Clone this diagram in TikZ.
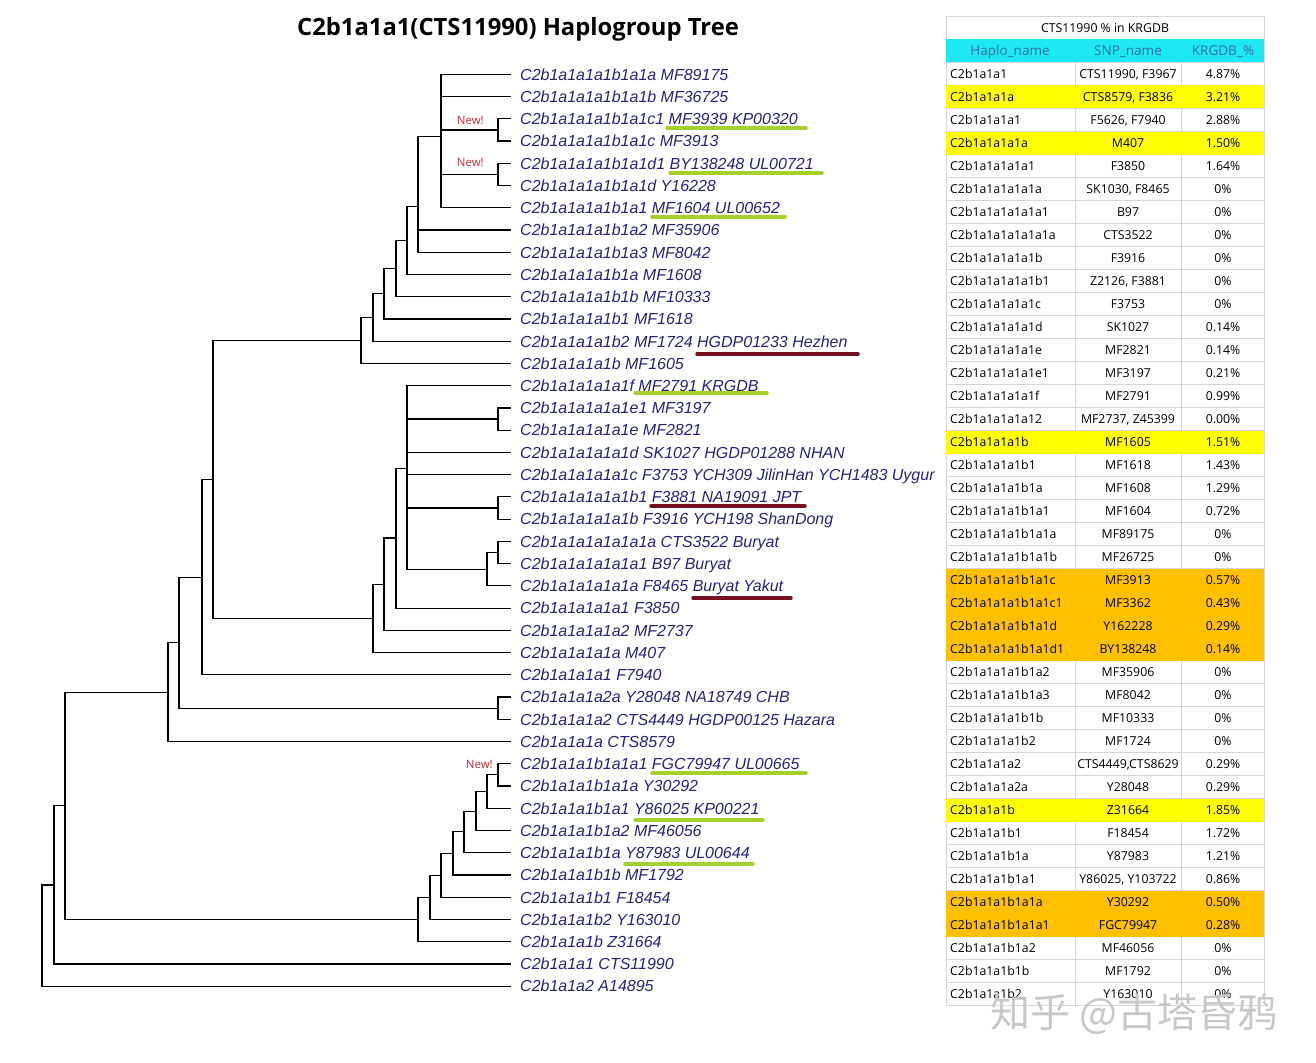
\documentclass[tikz,border=0pt]{standalone}
\usepackage{fontspec}
\setmainfont{Liberation Sans}
\newfontfamily\tabfont{Open Sans}
\newfontfamily\cjkfont{Noto Sans CJK SC}
\usepackage{xcolor}
\usepackage{tikz}
\usetikzlibrary{positioning}

\definecolor{leafblue}{RGB}{38,38,118}
\definecolor{newred}{RGB}{192,48,58}
\definecolor{markgreen}{RGB}{165,208,45}
\definecolor{markred}{RGB}{118,16,32}
\definecolor{hdrcyan}{RGB}{30,232,242}
\definecolor{hdrtext}{RGB}{50,112,170}
\definecolor{rowyellow}{RGB}{255,255,0}
\definecolor{roworange}{RGB}{255,192,0}
\definecolor{gridgray}{RGB}{214,214,214}
\definecolor{wmgray}{RGB}{200,200,200}

\begin{document}
\begin{tikzpicture}[x=1pt,y=-1pt,
    leaf/.style={font=\fontsize{16}{19}\selectfont\itshape, text=leafblue,
                 inner sep=0pt, text height=11.6pt, text depth=0pt},
    branch/.style={draw=black, line width=1.15pt},
    newtag/.style={font=\tabfont\fontsize{11.5}{13}\selectfont, text=newred, inner sep=1pt},
    greenmark/.style={draw=markgreen, line width=3.5pt, line cap=round},
    redmark/.style={draw=markred, line width=3.5pt, line cap=round},
    cell/.style={font=\tabfont\fontsize{12.3}{14}\selectfont, inner sep=0pt,
                 text height=8.8pt, text depth=0pt},
    gridline/.style={draw=gridgray, line width=0.8pt}]
\useasboundingbox[fill=white] (0,0) rectangle (1316,1062);

\node[font=\tabfont\bfseries\fontsize{23.8}{28}\selectfont] (title) at (518,29)
  {C2b1a1a1(CTS11990) Haplogroup Tree};

% tree, one unit of y = one leaf row
\begin{scope}[yshift=-52.1pt, y=-22.24pt]
\foreach \r/\lab in {
   1/{C2b1a1a1a1b1a1a MF89175},
   2/{C2b1a1a1a1b1a1b MF36725},
   3/{C2b1a1a1a1b1a1c1 MF3939 KP00320},
   4/{C2b1a1a1a1b1a1c MF3913},
   5/{C2b1a1a1a1b1a1d1 BY138248 UL00721},
   6/{C2b1a1a1a1b1a1d Y16228},
   7/{C2b1a1a1a1b1a1 MF1604 UL00652},
   8/{C2b1a1a1a1b1a2 MF35906},
   9/{C2b1a1a1a1b1a3 MF8042},
  10/{C2b1a1a1a1b1a MF1608},
  11/{C2b1a1a1a1b1b MF10333},
  12/{C2b1a1a1a1b1 MF1618},
  13/{C2b1a1a1a1b2 MF1724 HGDP01233 Hezhen},
  14/{C2b1a1a1a1b MF1605},
  15/{C2b1a1a1a1a1f MF2791 KRGDB},
  16/{C2b1a1a1a1a1e1 MF3197},
  17/{C2b1a1a1a1a1e MF2821},
  18/{C2b1a1a1a1a1d SK1027 HGDP01288 NHAN},
  19/{C2b1a1a1a1a1c F3753 YCH309 JilinHan YCH1483 Uygur},
  20/{C2b1a1a1a1a1b1 F3881 NA19091 JPT},
  21/{C2b1a1a1a1a1b F3916 YCH198 ShanDong},
  22/{C2b1a1a1a1a1a1a CTS3522 Buryat},
  23/{C2b1a1a1a1a1a1 B97 Buryat},
  24/{C2b1a1a1a1a1a F8465 Buryat Yakut},
  25/{C2b1a1a1a1a1 F3850},
  26/{C2b1a1a1a1a2 MF2737},
  27/{C2b1a1a1a1a M407},
  28/{C2b1a1a1a1 F7940},
  29/{C2b1a1a1a2a Y28048 NA18749 CHB},
  30/{C2b1a1a1a2 CTS4449 HGDP00125 Hazara},
  31/{C2b1a1a1a CTS8579},
  32/{C2b1a1a1b1a1a1 FGC79947 UL00665},
  33/{C2b1a1a1b1a1a Y30292},
  34/{C2b1a1a1b1a1 Y86025 KP00221},
  35/{C2b1a1a1b1a2 MF46056},
  36/{C2b1a1a1b1a Y87983 UL00644},
  37/{C2b1a1a1b1b MF1792},
  38/{C2b1a1a1b1 F18454},
  39/{C2b1a1a1b2 Y163010},
  40/{C2b1a1a1b Z31664},
  41/{C2b1a1a1 CTS11990},
  42/{C2b1a1a2 A14895}}{
  \coordinate (t\r) at (511,\r);
  \node[leaf, right=9pt of t\r] (l\r) {\lab};
}

\coordinate (c3) at (498,3.5);
\coordinate (c5) at (498,5.5);
\coordinate (nA) at (441,3.8);
\coordinate (nB) at (418,6.93);
\coordinate (nC) at (407,8.47);
\coordinate (nD) at (396,9.74);
\coordinate (nE) at (384,10.87);
\coordinate (nF) at (373,11.93);
\coordinate (nG) at (361,12.97);
\coordinate (c16) at (498,16.5);
\coordinate (c20) at (498,20.5);
\coordinate (c22) at (498,22.5);
\coordinate (c23) at (487,23.25);
\coordinate (nP) at (407,18.71);
\coordinate (nQ) at (396,21.85);
\coordinate (nR) at (384,23.93);
\coordinate (nS) at (373,25.46);
\coordinate (nT) at (213,19.22);
\coordinate (nU) at (202,23.61);
\coordinate (c29) at (498,29.5);
\coordinate (nW) at (179,26.55);
\coordinate (nX) at (168,28.78);
\coordinate (b1) at (498,32.5);
\coordinate (b2) at (487,33.25);
\coordinate (b3) at (476,34.13);
\coordinate (b4) at (464,35.06);
\coordinate (b5) at (453,36.03);
\coordinate (b6) at (441,37.02);
\coordinate (b7) at (430,38.01);
\coordinate (b8) at (418,39.0);
\coordinate (nY) at (65,33.89);
\coordinate (nZ) at (54,37.45);
\coordinate (root) at (42,39.72);

\foreach \p/\c in {c3/t3,c3/t4,c5/t5,c5/t6,
    nA/t1,nA/t2,nA/c3,nA/c5,nA/t7,nB/nA,nB/t8,nB/t9,nC/nB,nC/t10,
    nD/nC,nD/t11,nE/nD,nE/t12,nF/nE,nF/t13,nG/nF,nG/t14,
    c16/t16,c16/t17,c20/t20,c20/t21,c22/t22,c22/t23,c23/c22,c23/t24,
    nP/t15,nP/c16,nP/t18,nP/t19,nP/c20,nP/c23,nQ/nP,nQ/t25,nR/nQ,nR/t26,
    nS/nR,nS/t27,nT/nG,nT/nS,nU/nT,nU/t28,c29/t29,c29/t30,nW/nU,nW/c29,
    nX/nW,nX/t31,
    b1/t32,b1/t33,b2/b1,b2/t34,b3/b2,b3/t35,b4/b3,b4/t36,b5/b4,b5/t37,
    b6/b5,b6/t38,b7/b6,b7/t39,b8/b7,b8/t40,
    nY/nX,nY/b8,nZ/nY,nZ/t41,root/nZ,root/t42}
  \draw[branch] (\p) |- (\c);

\node[newtag, above left=4pt and 13pt of c3] (new1) {New!};
\node[newtag, above left=7pt and 13pt of c5] (new2) {New!};
\node[newtag, above left=5pt and 4pt of b1] (new3) {New!};

\draw[greenmark] (667,3.41) -- (806,3.41);
\draw[greenmark] (670,5.44) -- (822,5.44);
\draw[greenmark] (652,7.41) -- (785,7.41);
\draw[redmark] (697,13.57) -- (858,13.57);
\draw[greenmark] (635,15.33) -- (767,15.33);
\draw[redmark] (651,20.41) -- (805,20.41);
\draw[redmark] (693,24.55) -- (791,24.55);
\draw[greenmark] (652,32.42) -- (806,32.42);
\draw[greenmark] (635,34.53) -- (763,34.53);
\draw[greenmark] (625,36.51) -- (753,36.51);
\end{scope}

% table, one unit of y = one table row
\begin{scope}[shift={(0,62.5)}, y=-23pt]
\foreach \i in {0,...,41}
  \draw[gridline] (946,\i) -- (1264,\i);
\draw[gridline] (946,-2) -- (1264,-2) (946,-2) -- (946,41) (1264,-2) -- (1264,41);
\draw[gridline] (1075,0) -- (1075,41) (1181,0) -- (1181,41);
\foreach \i in {2,4,17,33}
  \fill[rowyellow] (946,{\i-1}) rectangle (1264,\i);
\foreach \i in {23,24,25,26,37,38}
  \fill[roworange] (946,{\i-1}) rectangle (1264,\i);
\fill[hdrcyan] (946,-1) rectangle (1264,0);

\node[cell, font=\tabfont\fontsize{12.3}{14}\selectfont] (ttl) at (1105,-1.5) {CTS11990 \% in KRGDB};
\node[cell, text=hdrtext, font=\tabfont\fontsize{13.5}{16}\selectfont] (hd1) at (1010,-0.5) {Haplo\_name};
\node[cell, text=hdrtext, font=\tabfont\fontsize{13.5}{16}\selectfont] (hd2) at (1128,-0.5) {SNP\_name};
\node[cell, text=hdrtext, font=\tabfont\fontsize{13.5}{16}\selectfont] (hd3) at (1223,-0.5) {KRGDB\_\%};

\foreach \i/\hn/\snp/\pc in {
   1/C2b1a1a1/{CTS11990, F3967}/4.87\%,
   2/C2b1a1a1a/{CTS8579, F3836}/3.21\%,
   3/C2b1a1a1a1/{F5626, F7940}/2.88\%,
   4/C2b1a1a1a1a/M407/1.50\%,
   5/C2b1a1a1a1a1/F3850/1.64\%,
   6/C2b1a1a1a1a1a/{SK1030, F8465}/0\%,
   7/C2b1a1a1a1a1a1/B97/0\%,
   8/C2b1a1a1a1a1a1a/CTS3522/0\%,
   9/C2b1a1a1a1a1b/F3916/0\%,
  10/C2b1a1a1a1a1b1/{Z2126, F3881}/0\%,
  11/C2b1a1a1a1a1c/F3753/0\%,
  12/C2b1a1a1a1a1d/SK1027/0.14\%,
  13/C2b1a1a1a1a1e/MF2821/0.14\%,
  14/C2b1a1a1a1a1e1/MF3197/0.21\%,
  15/C2b1a1a1a1a1f/MF2791/0.99\%,
  16/C2b1a1a1a1a12/{MF2737, Z45399}/0.00\%,
  17/C2b1a1a1a1b/MF1605/1.51\%,
  18/C2b1a1a1a1b1/MF1618/1.43\%,
  19/C2b1a1a1a1b1a/MF1608/1.29\%,
  20/C2b1a1a1a1b1a1/MF1604/0.72\%,
  21/C2b1a1a1a1b1a1a/MF89175/0\%,
  22/C2b1a1a1a1b1a1b/MF26725/0\%,
  23/C2b1a1a1a1b1a1c/MF3913/0.57\%,
  24/C2b1a1a1a1b1a1c1/MF3362/0.43\%,
  25/C2b1a1a1a1b1a1d/Y162228/0.29\%,
  26/C2b1a1a1a1b1a1d1/BY138248/0.14\%,
  27/C2b1a1a1a1b1a2/MF35906/0\%,
  28/C2b1a1a1a1b1a3/MF8042/0\%,
  29/C2b1a1a1a1b1b/MF10333/0\%,
  30/C2b1a1a1a1b2/MF1724/0\%,
  31/C2b1a1a1a2/{CTS4449,CTS8629}/0.29\%,
  32/C2b1a1a1a2a/Y28048/0.29\%,
  33/C2b1a1a1b/Z31664/1.85\%,
  34/C2b1a1a1b1/F18454/1.72\%,
  35/C2b1a1a1b1a/Y87983/1.21\%,
  36/C2b1a1a1b1a1/{Y86025, Y103722}/0.86\%,
  37/C2b1a1a1b1a1a/Y30292/0.50\%,
  38/C2b1a1a1b1a1a1/FGC79947/0.28\%,
  39/C2b1a1a1b1a2/MF46056/0\%,
  40/C2b1a1a1b1b/MF1792/0\%,
  41/C2b1a1a1b2/Y163010/0\%}{
  \node[cell, anchor=west] (hn\i) at (950,{\i-0.5}) {\hn};
  \node[cell] (snp\i) at (1128,{\i-0.5}) {\snp};
  \node[cell] (pct\i) at (1223,{\i-0.5}) {\pc};
}
\end{scope}

\node[font=\cjkfont\fontsize{40}{44}\selectfont, text=wmgray] (wm) at (1134,1014) {知乎 @古塔昏鸦};
\end{tikzpicture}
\end{document}
